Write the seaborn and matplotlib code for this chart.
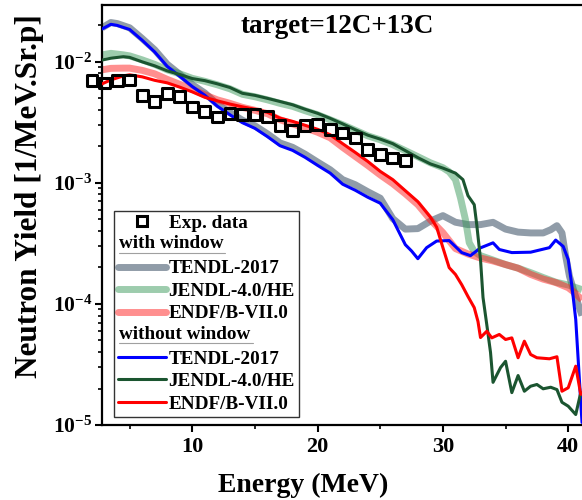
import numpy as np
import pandas as pd
import matplotlib
matplotlib.use("Agg")
import matplotlib.pyplot as plt
from matplotlib.lines import Line2D
from matplotlib.text import Text
from matplotlib.legend_handler import HandlerBase
from matplotlib.ticker import FuncFormatter, LogLocator, NullFormatter, MultipleLocator
import seaborn as sns

# ---------------- data ----------------
exp_energy = list(range(2, 28))
exp_yield = [0.00697, 0.00664, 0.00693, 0.00706, 0.00521, 0.00468, 0.00548, 0.00514,
             0.00421, 0.00387, 0.00348, 0.00371, 0.00364, 0.00364, 0.00352, 0.00295,
             0.00270, 0.00295, 0.00301, 0.00274, 0.00257, 0.00234, 0.00187, 0.00170,
             0.00160, 0.00153]

# with window (thick)
tendl_w_energy = [2.8, 3.5, 4, 5, 6, 7, 8, 9, 10] + list(range(11, 39)) + \
                 [38.6, 39.1, 39.5, 39.8, 40.1, 40.5, 41.1]
tendl_w_yield = [0.0190, 0.0210, 0.0206, 0.0190, 0.0155, 0.0125, 0.00950, 0.00785, 0.00645,
                 0.00550, 0.00445, 0.00380, 0.00328, 0.00295, 0.00253, 0.00213, 0.00196,
                 0.00172, 0.00148, 0.00128, 0.00106, 0.000963, 0.000843, 0.000745, 0.000505,
                 0.000414, 0.000418, 0.000482, 0.000535, 0.000472, 0.000451, 0.000451,
                 0.000471, 0.000414, 0.000391, 0.000385, 0.000385,
                 0.000409, 0.000442, 0.000385, 0.000247, 0.000169, 0.000123, 8.0e-5]

jendl_w_energy = [2.8, 3.5, 4.5, 5] + list(range(6, 31)) + \
                 [30.5, 31, 31.4, 31.8, 32.1, 32.5, 33, 34, 35, 36, 37, 38, 39, 40, 41.1]
jendl_w_yield = [0.01136, 0.01169, 0.01136, 0.01114,
                 0.01033, 0.00948, 0.00855, 0.00793, 0.00727, 0.00687, 0.00643, 0.00596,
                 0.00537, 0.00512, 0.00483, 0.00452, 0.00427, 0.00393, 0.00364, 0.00331,
                 0.00301, 0.00271, 0.00244, 0.00226, 0.00206, 0.00184, 0.00164, 0.00146,
                 0.00133,
                 0.00123, 0.00106, 0.000752, 0.000495, 0.000320, 0.000270, 0.000250,
                 0.000230, 0.000211, 0.000197, 0.000181, 0.000165, 0.000151, 0.000143,
                 0.000131]

endf_w_energy = [2.8, 3.5, 4.5, 5] + list(range(6, 41)) + [40.5, 41.1]
endf_w_yield = [0.00855, 0.00879, 0.00883, 0.00883,
                0.00846, 0.00792, 0.00713, 0.00649, 0.00590, 0.00531, 0.00483, 0.00452,
                0.00419, 0.00396, 0.00371, 0.00331, 0.00306, 0.00284, 0.00261, 0.00235,
                0.00196, 0.00165, 0.00139, 0.00116, 0.000982, 0.000811, 0.000659,
                0.000495, 0.000387, 0.000286, 0.000258, 0.000239, 0.000226, 0.000211,
                0.000197, 0.000175, 0.000160, 0.000150, 0.000136,
                0.000124, 0.000108]

# without window (thin)
tendl_energy = [2.8, 3.5, 4, 5, 6, 7, 8, 9, 10] + list(range(11, 28)) + \
               [27.5, 28, 28.7, 29.5, 30.5, 31.5, 32.2, 33, 34, 34.5, 35.5, 37, 38.5,
                39, 39.6, 40, 40.3, 40.6, 41.1]
tendl_yield = [0.0186, 0.0203, 0.0199, 0.0184, 0.0150, 0.0120, 0.00913, 0.00756, 0.00622,
               0.00527, 0.00428, 0.00364, 0.00313, 0.00281, 0.00240, 0.00202, 0.00185,
               0.00162, 0.00139, 0.00120, 0.000972, 0.000867, 0.000759, 0.000677,
               0.000495, 0.000308,
               0.000273, 0.000236, 0.000291, 0.000330, 0.000333, 0.000265, 0.000250,
               0.000290, 0.000319, 0.000281, 0.000265, 0.000267, 0.000291, 0.000336,
               0.000298, 0.000232, 0.000139, 7.43e-5, 1.05e-5]

jendl_energy = [2.8, 3.5, 4.5, 5] + list(range(6, 32)) + \
               [31.6, 32, 32.5, 32.7, 33, 33.2, 33.5, 33.8, 34, 34.6, 35, 35.5, 36, 36.5,
                37, 37.5, 38, 38.6, 39.1, 39.5, 40, 40.6, 41]
jendl_yield = [0.0103, 0.01066, 0.01097, 0.01083,
               0.00995, 0.00922, 0.00838, 0.00782, 0.00724, 0.00696, 0.00655, 0.00611,
               0.00547, 0.00526, 0.00497, 0.00468, 0.00440, 0.00404, 0.00374, 0.00340,
               0.00306, 0.00274, 0.00247, 0.00229, 0.00210, 0.00184, 0.00161, 0.00143,
               0.00132, 0.00120,
               0.00106, 0.000782, 0.000659, 0.000451, 0.000232, 0.000113, 6.75e-5,
               3.97e-5, 2.25e-5, 2.98e-5, 3.36e-5, 1.85e-5, 2.56e-5, 1.90e-5, 2.09e-5,
               2.16e-5, 1.99e-5, 2.05e-5, 1.96e-5, 1.54e-5, 1.43e-5, 1.22e-5, 1.85e-5]

endf_energy = [2.8, 3.5, 4.5, 5] + list(range(6, 30)) + \
              [29.5, 30, 30.5, 31, 31.5, 32, 32.5, 32.8, 33, 33.5, 33.9, 34.5, 35, 35.5,
               36, 36.5, 37, 37.5, 38.5, 39.1, 39.5, 40, 40.6, 41]
endf_yield = [0.00655, 0.00706, 0.00762, 0.00777,
              0.00748, 0.00700, 0.00667, 0.00615, 0.00562, 0.00507, 0.00474, 0.00446,
              0.00423, 0.00404, 0.00381, 0.00341, 0.00321, 0.00298, 0.00276, 0.00249,
              0.00210, 0.00178, 0.00150, 0.00124, 0.00106, 0.000859, 0.000697, 0.00052,
              0.00043, 0.000291, 0.000199, 0.000175, 0.000144, 0.000115, 9.31e-5,
              7.14e-5, 5.27e-5, 5.94e-5, 5.24e-5, 5.59e-5, 5.08e-5, 5.24e-5, 3.59e-5,
              4.92e-5, 3.82e-5, 3.59e-5, 3.52e-5, 3.66e-5, 1.90e-5, 2.03e-5, 3.06e-5,
              1.79e-5]

legend_labels = ["TENDL-2017", "JENDL-4.0/HE", "ENDF/B-VII.0"]

# ---------------- style ----------------
sns.set_style("ticks")
plt.rcParams["font.family"] = ["Liberation Serif", "DejaVu Serif"]
plt.rcParams["font.weight"] = "bold"
plt.rcParams["axes.labelweight"] = "bold"
plt.rcParams["text.color"] = "black"
plt.rcParams["axes.labelcolor"] = "black"
plt.rcParams["xtick.color"] = "black"
plt.rcParams["ytick.color"] = "black"
plt.rcParams["mathtext.fontset"] = "custom"
plt.rcParams["mathtext.bf"] = "Liberation Serif:bold"
plt.rcParams["mathtext.rm"] = "Liberation Serif:bold"

fig = plt.figure(figsize=(5.82, 5.00), dpi=100)
ax = fig.add_axes([102 / 582, 75 / 500, 480 / 582, 420 / 500])
ax.set_yscale("log")

thick_styles = [
    ("#7d8b99", 0.85),   # TENDL, with window
    ("#3c9a5c", 0.5),    # JENDL, with window
    ("#ff2020", 0.5),    # ENDF, with window
]
thin_colors = ["#0000ff", "#1b5530", "#ff0000"]

thick_sets = [(tendl_w_energy, tendl_w_yield), (jendl_w_energy, jendl_w_yield),
              (endf_w_energy, endf_w_yield)]
thin_sets = [(tendl_energy, tendl_yield), (jendl_energy, jendl_yield),
             (endf_energy, endf_yield)]

for (e, y), (c, a) in zip(thick_sets, thick_styles):
    sns.lineplot(x=e, y=y, ax=ax, color=c, alpha=a, lw=5.0, legend=False,
                 solid_joinstyle="round", solid_capstyle="butt", zorder=2)

for (e, y), c in zip(thin_sets, thin_colors):
    sns.lineplot(x=e, y=y, ax=ax, color=c, lw=2.2, legend=False,
                 solid_joinstyle="round", zorder=3)

sns.scatterplot(x=exp_energy, y=exp_yield, ax=ax, marker="s", s=60,
                facecolor="none", edgecolor="black", linewidth=2.2,
                clip_on=False, zorder=5, legend=False)

# ---------------- axes ----------------
ax.set_xlim(2.793, 41.1)
ax.set_ylim(1e-5, 10 ** -1.533)

ax.xaxis.set_major_locator(MultipleLocator(10))
ax.xaxis.set_minor_locator(MultipleLocator(5))
ax.yaxis.set_major_locator(LogLocator(base=10, numticks=10))
ax.yaxis.set_minor_locator(LogLocator(base=10, subs=np.arange(2, 10), numticks=20))
ax.yaxis.set_major_formatter(FuncFormatter(
    lambda v, p: r"$\mathbf{10^{%d}}$" % int(round(np.log10(v)))))
ax.yaxis.set_minor_formatter(NullFormatter())

for side in ["left", "bottom", "top"]:
    ax.spines[side].set_linewidth(1.6)
    ax.spines[side].set_color("black")
ax.spines["right"].set_visible(False)

ax.tick_params(axis="both", which="major", direction="out", length=5, width=1.5,
               color="black", labelcolor="black")
ax.tick_params(axis="both", which="minor", direction="out", length=3, width=1.2,
               color="black")
ax.tick_params(axis="x", labelsize=16, pad=4)
ax.tick_params(axis="y", labelsize=15.5, pad=2)
for lab in ax.get_xticklabels():
    lab.set_fontweight("bold")

ax.set_xlabel("Energy (MeV)", fontsize=20, fontweight="bold", color="black")
ax.xaxis.set_label_coords(0.42, -0.143)
ax.xaxis.label.set_va("center")
ax.set_ylabel("Neutron Yield [1/MeV.Sr.p]", fontsize=22.5, fontweight="bold",
              color="black")
ax.yaxis.label.set_va("center")
ax.yaxis.set_label_coords(-0.152, 0.545)

ax.text(0.49, 0.948, "target=12C+13C", transform=ax.transAxes, ha="center",
        va="center", fontsize=19.5, fontweight="bold", color="black")


# ---------------- legend ----------------
class Header:
    def __init__(self, text, underline):
        self.text = text
        self.underline = underline


class HeaderHandler(HandlerBase):
    def create_artists(self, legend, orig_handle, xdescent, ydescent, width, height,
                       fontsize, trans):
        x0 = -xdescent + 1
        yc = -ydescent + height / 2
        t = Text(x0, yc, orig_handle.text, ha="left", va="center",
                 fontsize=fontsize, fontweight="bold", color="black", transform=trans)
        ln = Line2D([x0, x0 + orig_handle.underline], [yc - 6.2, yc - 6.2],
                    color="#a0a0a0", lw=0.8, transform=trans)
        return [t, ln]


handles = [Line2D([], [], marker="s", ls="none", mfc="none", mec="black",
                  mew=2.2, ms=7.5)]
labels = ["Exp. data"]
handles.append(Header("with window", 76))
labels.append("")
for (c, a) in thick_styles:
    handles.append(Line2D([], [], color=c, alpha=a, lw=5.0, solid_capstyle="round"))
labels += legend_labels
handles.append(Header("without window", 96))
labels.append("")
for c in thin_colors:
    handles.append(Line2D([], [], color=c, lw=2.2))
labels += legend_labels

leg = ax.legend(handles, labels, loc="lower left", bbox_to_anchor=(0.025, 0.02),
                borderaxespad=0, frameon=True, fancybox=False, framealpha=1,
                edgecolor="#333333", prop={"size": 13.8, "weight": "bold"},
                handlelength=2.5, handletextpad=0.15, labelspacing=0.27,
                borderpad=0.2, handler_map={Header: HeaderHandler()})
leg.get_frame().set_linewidth(1.0)
leg.set_zorder(6)
for t in leg.get_texts():
    t.set_color("black")

fig.savefig("out.png", dpi=100)
